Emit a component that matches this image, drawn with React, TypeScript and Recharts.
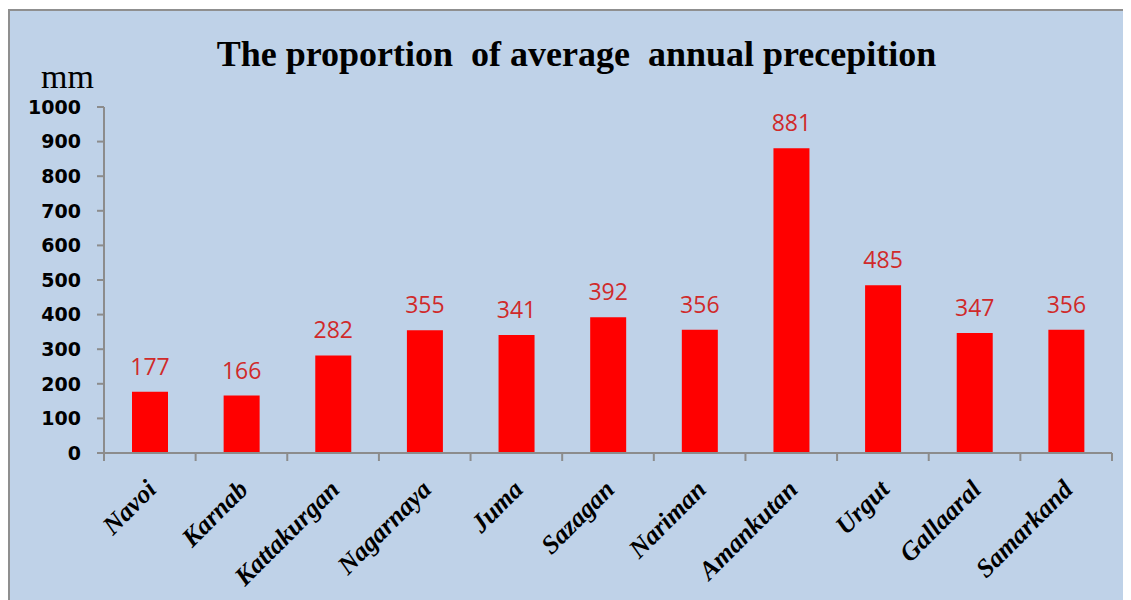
import React from "react";
import { BarChart, Bar, XAxis, YAxis, LabelList } from "recharts";

const stations = ["Navoi", "Karnab", "Kattakurgan", "Nagarnaya", "Juma", "Sazagan", "Nariman", "Amankutan", "Urgut", "Gallaaral", "Samarkand"];
const precipitation = [177, 166, 282, 355, 341, 392, 356, 881, 485, 347, 356];
const yTicks = [0, 100, 200, 300, 400, 500, 600, 700, 800, 900, 1000];

const data = stations.map((name, i) => ({ name, value: precipitation[i] }));

const CHART_W = 1115;
const CHART_H = 590;
const MARGIN = { top: 96, right: 13, left: 0, bottom: 28 };
const Y_W = 94;
const PLOT_W = CHART_W - MARGIN.left - MARGIN.right - Y_W;
const AXIS_COLOR = "#8c8c8c";

const XTick = (props: any) => {
  const { x, y, payload, index } = props;
  const band = payload && payload.offset ? payload.offset * 2 : PLOT_W / stations.length;
  const left = x - band / 2;
  const right = x + band / 2;
  const tx = x + 8;
  const ty = y + 38;
  return (
    <g>
      <line x1={left} y1={y} x2={left} y2={y + 8} stroke={AXIS_COLOR} strokeWidth={2} />
      {index === stations.length - 1 && (
        <line x1={right} y1={y} x2={right} y2={y + 8} stroke={AXIS_COLOR} strokeWidth={2} />
      )}
      <text
        x={tx}
        y={ty}
        transform={`rotate(-45, ${tx}, ${ty})`}
        textAnchor="end"
        fontFamily="'Liberation Serif', 'Times New Roman', serif"
        fontWeight="bold"
        fontStyle="italic"
        fontSize={26}
        fill="#000"
      >
        {payload.value}
      </text>
    </g>
  );
};

export default function App() {
  return (
    <div
      style={{
        position: "relative",
        marginTop: 1,
        width: CHART_W,
        height: CHART_H,
        border: "2px solid #8f8f8f",
        background: "#bfd2e8",
      }}
    >
      <div
        style={{
          position: "absolute",
          left: 0,
          width: "100%",
          top: 25,
          lineHeight: "36px",
          textAlign: "center",
          fontFamily: "'Liberation Serif', 'Times New Roman', serif",
          fontWeight: "bold",
          fontSize: 36,
          color: "#000",
          whiteSpace: "pre",
          paddingLeft: 18,
          boxSizing: "border-box",
        }}
      >
        {"The proportion  of average  annual precepition"}
      </div>
      <div
        style={{
          position: "absolute",
          left: 31,
          top: 49,
          lineHeight: "34px",
          fontFamily: "'Liberation Serif', 'Times New Roman', serif",
          fontSize: 34,
          color: "#000",
        }}
      >
        mm
      </div>
      <BarChart width={CHART_W} height={CHART_H} data={data} margin={MARGIN}>
        <XAxis
          dataKey="name"
          interval={0}
          height={120}
          axisLine={{ stroke: AXIS_COLOR, strokeWidth: 2 }}
          tickLine={false}
          tickSize={0}
          tickMargin={0}
          tick={<XTick />}
        />
        <YAxis
          width={Y_W}
          domain={[0, 1000]}
          ticks={yTicks}
          interval={0}
          axisLine={{ stroke: AXIS_COLOR, strokeWidth: 2 }}
          tickLine={{ stroke: AXIS_COLOR, strokeWidth: 2 }}
          tickSize={7}
          tickMargin={16}
          tick={{ fill: "#000", fontSize: 19, fontWeight: "bold", fontFamily: "'DejaVu Sans', sans-serif" }}
        />
        <Bar dataKey="value" fill="#ff0000" barSize={36} isAnimationActive={false}>
          <LabelList
            dataKey="value"
            position="top"
            offset={17}
            fill="#d02a2a"
            fontSize={23}
            fontFamily="'Open Sans', sans-serif"
          />
        </Bar>
      </BarChart>
    </div>
  );
}
